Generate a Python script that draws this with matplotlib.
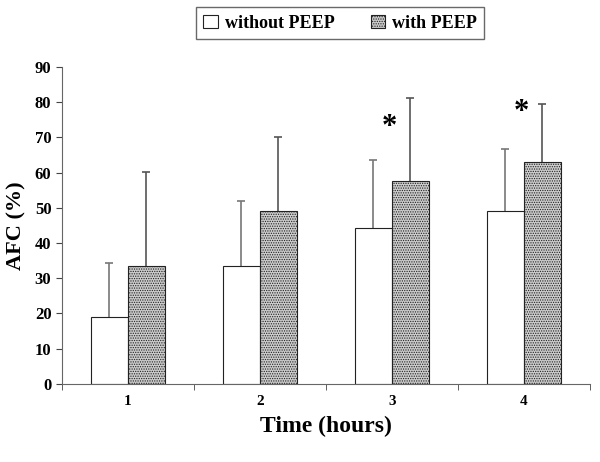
import numpy as np
import matplotlib.pyplot as plt

plt.rcParams['font.family'] = ['Liberation Serif', 'DejaVu Serif']
plt.rcParams['font.weight'] = 'bold'
plt.rcParams['hatch.color'] = '#555555'
plt.rcParams['hatch.linewidth'] = 0.6

# data
hours = ['1', '2', '3', '4']
without_peep = [19, 33.5, 44.2, 49]
without_sd = [15.3, 18.5, 19.3, 17.6]
with_peep = [33.5, 49.2, 57.5, 63]
with_sd = [26.7, 20.8, 23.7, 16.5]
star_y = [None, None, 72.8, 77.2]

x = np.arange(1, len(hours) + 1)
w = 0.28
cap = 0.03

fig = plt.figure(figsize=(6, 4.62), dpi=100)
ax = fig.add_axes([0.103, 0.169, 0.88, 0.686])

b1 = ax.bar(x - w / 2, without_peep, w, color='white', edgecolor='#222222', linewidth=0.8,
            label='without PEEP', zorder=2)
b2 = ax.bar(x + w / 2, with_peep, w, color='#cccccc', edgecolor='#222222', linewidth=0.8,
            hatch='.......', label='with PEEP', zorder=2)

# upper error bars only
for xs, vals, sds, col in [(x - w / 2, without_peep, without_sd, '#777777'),
                           (x + w / 2, with_peep, with_sd, '#555555')]:
    tops = np.array(vals) + np.array(sds)
    ax.vlines(xs, vals, tops, color=col, linewidth=1.2, zorder=1)
    ax.hlines(tops, xs - cap, xs + cap, color=col, linewidth=1.2, zorder=1)

for i, sy in enumerate(star_y):
    if sy is not None:
        ax.text(x[i] - 0.02, sy, '*', ha='center', va='center', fontsize=22,
                fontweight='bold')

ax.set_xlim(0.5, 4.5)
ax.set_ylim(0, 90)
ax.set_yticks(np.arange(0, 91, 10))
ax.set_xticks(x)
ax.set_xticklabels(hours)
ax.set_xticks(np.arange(0.5, 4.6, 1), minor=True)
ax.tick_params(axis='x', which='major', length=0, pad=8, labelsize=11)
ax.tick_params(axis='x', which='minor', length=4, color='#444444', direction='out')
ax.tick_params(axis='y', length=4, color='#444444', labelsize=12)

for sp in ['top', 'right']:
    ax.spines[sp].set_visible(False)
for sp in ['left', 'bottom']:
    ax.spines[sp].set_color('#666666')

ax.set_ylabel('AFC (%)', fontsize=16, fontweight='bold', labelpad=6)
ax.set_xlabel('Time (hours)', fontsize=17, fontweight='bold', labelpad=6)

fig.legend(handles=[b1, b2], loc='center', bbox_to_anchor=(0.567, 0.95), ncol=2,
           fancybox=False, edgecolor='#444444', handlelength=0.8,
           handleheight=0.8, handletextpad=0.4, columnspacing=2.0,
           prop={'weight': 'bold', 'size': 13})

fig.savefig('out.png', dpi=100)
